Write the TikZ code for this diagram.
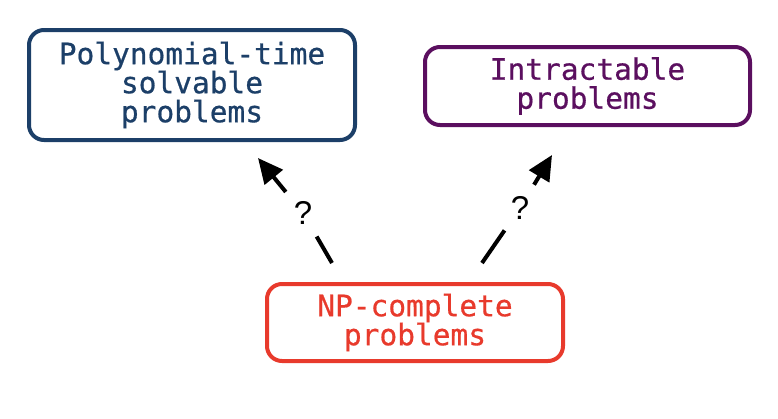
\documentclass[tikz,border=0pt]{standalone}
\usepackage{fontspec}
\newfontfamily\boxfont{DejaVu Sans Mono}[FakeBold=0.6]
\newfontfamily\qfont{Liberation Sans}
\usetikzlibrary{arrows.meta}
\definecolor{navy}{HTML}{1C3F68}
\definecolor{plum}{HTML}{5B0F5F}
\definecolor{npred}{HTML}{E83A2C}
\tikzset{
  box/.style={draw, rounded corners=15pt, line width=4pt, align=center, inner sep=0pt,
    font=\boxfont\fontsize{29.5}{29}\selectfont},
  qmark/.style={circle, minimum size=54pt, inner sep=0pt, font=\qfont\fontsize{33}{33}\selectfont},
  link/.style={line width=4pt},
  linkarrow/.style={line width=4pt, -{Triangle[length=25pt,width=23pt]}}
}
\begin{document}
\begin{tikzpicture}[x=1pt,y=-1pt]
\useasboundingbox (0,0) rectangle (778,418);
\node[box, draw=navy, text=navy, minimum width=326pt, minimum height=110pt] (poly) at (192,85)
  {Polynomial-time\\solvable\\problems};
\node[box, draw=plum, text=plum, minimum width=325pt, minimum height=78pt] (intr) at (587.5,86)
  {Intractable\\problems};
\node[box, draw=npred, text=npred, minimum width=296pt, minimum height=77pt] (np) at (415,322.5)
  {NP-complete\\problems};
\coordinate (ltail) at (332,263);
\coordinate (ltip) at (258,158);
\coordinate (rtail) at (482,263);
\coordinate (rtip) at (552,155);
\node[qmark] (lq) at (303,213) {?};
\node[qmark] (rq) at (520,208) {?};
\draw[link] (ltail) -- (lq);
\draw[linkarrow] (lq) -- (ltip);
\draw[link] (rtail) -- (rq);
\draw[linkarrow] (rq) -- (rtip);
\end{tikzpicture}
\end{document}
